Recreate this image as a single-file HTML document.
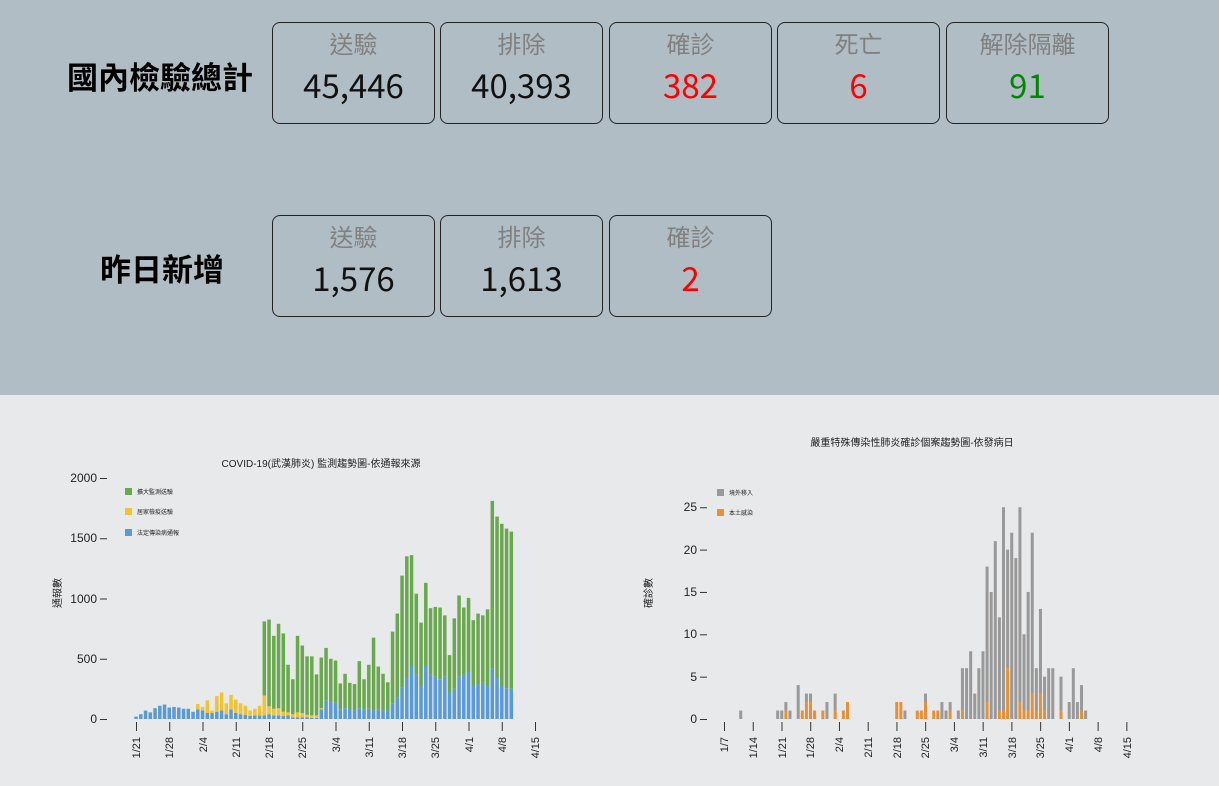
<!DOCTYPE html>
<html><head><meta charset="utf-8">
<style>
body{margin:0;width:1219px;height:786px;overflow:hidden;font-family:"Liberation Sans","Noto Sans CJK TC",sans-serif;background:#e8e9ea;position:relative}
#top{position:absolute;left:0;top:0;width:1219px;height:395px;background:#b0bdc4}
.h{position:absolute;font-size:31px;font-weight:bold;color:#000;white-space:nowrap;font-family:"Noto Sans CJK TC",sans-serif}
.box{position:absolute;width:161px;height:100px;border:1px solid #222;border-radius:8px;text-align:center}
.box .l{position:absolute;top:3px;left:0;right:0;font-size:24px;color:#808080;font-family:"Noto Sans CJK TC",sans-serif;line-height:34px}
.box .v{position:absolute;top:41px;left:0;right:0;font-size:33px;color:#111;line-height:40px;font-family:"Noto Sans CJK TC","Liberation Sans",sans-serif}
.r{color:#f00!important}.g{color:#080!important}
svg{position:absolute;left:0;top:0}
svg text{font-family:"Liberation Sans","Noto Sans CJK TC",sans-serif;fill:#222}
</style></head><body>
<div id="top">
<div class="h" style="left:67px;top:53px">國內檢驗總計</div>
<div class="h" style="left:100px;top:245px">昨日新增</div>
<div class="box" style="left:272px;top:22px"><div class="l">送驗</div><div class="v">45,446</div></div>
<div class="box" style="left:440px;top:22px"><div class="l">排除</div><div class="v">40,393</div></div>
<div class="box" style="left:609px;top:22px"><div class="l">確診</div><div class="v r">382</div></div>
<div class="box" style="left:777px;top:22px"><div class="l">死亡</div><div class="v r">6</div></div>
<div class="box" style="left:946px;top:22px"><div class="l">解除隔離</div><div class="v g">91</div></div>
<div class="box" style="left:272px;top:215px"><div class="l">送驗</div><div class="v">1,576</div></div>
<div class="box" style="left:440px;top:215px"><div class="l">排除</div><div class="v">1,613</div></div>
<div class="box" style="left:609px;top:215px"><div class="l">確診</div><div class="v r">2</div></div>
</div>
<svg id="s" width="1219" height="786">
<text x="321" y="467" font-size="10" text-anchor="middle">COVID-19(武漢肺炎) 監測趨勢圖-依通報來源</text>
<g font-size="12" text-anchor="end">
<text x="97" y="723">0</text><text x="97" y="663">500</text><text x="97" y="603">1000</text><text x="97" y="542">1500</text><text x="97" y="482">2000</text>
</g>
<text transform="translate(61,593) rotate(-90)" font-size="10" text-anchor="middle">通報數</text>
<rect x="125" y="488" width="7" height="7" fill="#6aa84f"/><text x="137" y="494" font-size="6">擴大監測送驗</text>
<rect x="125" y="508" width="7" height="7" fill="#f1c232"/><text x="137" y="514" font-size="6">居家檢疫送驗</text>
<rect x="125" y="529" width="7" height="7" fill="#5b9bd5"/><text x="137" y="535" font-size="6">法定傳染病通報</text>
<g font-size="11" text-anchor="end" id="lx">
<text transform="translate(140,737) rotate(-90)">1/21</text>
<text transform="translate(173,737) rotate(-90)">1/28</text>
<text transform="translate(207,737) rotate(-90)">2/4</text>
<text transform="translate(240,737) rotate(-90)">2/11</text>
<text transform="translate(273,737) rotate(-90)">2/18</text>
<text transform="translate(306,737) rotate(-90)">2/25</text>
<text transform="translate(340,737) rotate(-90)">3/4</text>
<text transform="translate(373,737) rotate(-90)">3/11</text>
<text transform="translate(406,737) rotate(-90)">3/18</text>
<text transform="translate(439,737) rotate(-90)">3/25</text>
<text transform="translate(473,737) rotate(-90)">4/1</text>
<text transform="translate(506,737) rotate(-90)">4/8</text>
<text transform="translate(539,737) rotate(-90)">4/15</text>
</g>
<text x="912" y="446" font-size="10" text-anchor="middle">嚴重特殊傳染性肺炎確診個案趨勢圖-依發病日</text>
<g font-size="12" text-anchor="end">
<text x="697" y="723">0</text><text x="697" y="681">5</text><text x="697" y="638">10</text><text x="697" y="596">15</text><text x="697" y="554">20</text><text x="697" y="511">25</text>
</g>
<text transform="translate(652,593) rotate(-90)" font-size="10" text-anchor="middle">確診數</text>
<rect x="717" y="489" width="7" height="7" fill="#999"/><text x="729" y="495" font-size="6">境外移入</text>
<rect x="717" y="509" width="7" height="7" fill="#e69138"/><text x="729" y="515" font-size="6">本土感染</text>
<g font-size="11" text-anchor="end">
<text transform="translate(728,737) rotate(-90)">1/7</text>
<text transform="translate(757,737) rotate(-90)">1/14</text>
<text transform="translate(786,737) rotate(-90)">1/21</text>
<text transform="translate(814,737) rotate(-90)">1/28</text>
<text transform="translate(843,737) rotate(-90)">2/4</text>
<text transform="translate(872,737) rotate(-90)">2/11</text>
<text transform="translate(901,737) rotate(-90)">2/18</text>
<text transform="translate(929,737) rotate(-90)">2/25</text>
<text transform="translate(958,737) rotate(-90)">3/4</text>
<text transform="translate(987,737) rotate(-90)">3/11</text>
<text transform="translate(1016,737) rotate(-90)">3/18</text>
<text transform="translate(1044,737) rotate(-90)">3/25</text>
<text transform="translate(1073,737) rotate(-90)">4/1</text>
<text transform="translate(1102,737) rotate(-90)">4/8</text>
<text transform="translate(1131,737) rotate(-90)">4/15</text>
</g>
</svg>
<script>
var s=document.getElementById('s'),NS='http://www.w3.org/2000/svg';
function R(x,y,w,h,c){var r=document.createElementNS(NS,'rect');r.setAttribute('x',x);r.setAttribute('y',y);r.setAttribute('width',w);r.setAttribute('height',h);r.setAttribute('fill',c);s.appendChild(r);}
function L(x1,y1,x2,y2){R(Math.min(x1,x2),Math.min(y1,y2),Math.max(1,Math.abs(x2-x1)),Math.max(1,Math.abs(y2-y1)),'#333');}
// left axes ticks
[0,500,1000,1500,2000].forEach(function(v){L(100,719-v*0.1205,107,719-v*0.1205+1);});
for(var i=0;i<13;i++){L(136+i*33.25,722,136+i*33.25+1,731);}
var d=[[20,0,0],[40,0,0],[70,0,0],[55,0,0],[90,0,0],[110,0,0],[120,0,0],[95,0,0],[100,0,0],[95,0,0],[85,0,0],[85,0,0],[60,0,0],[80,45,0],[70,30,0],[50,105,0],[50,20,0],[60,130,0],[70,150,0],[40,90,0],[80,120,0],[50,110,0],[40,90,0],[35,75,0],[25,45,0],[30,55,0],[30,80,0],[30,165,615],[40,65,720],[30,55,605],[30,60,700],[25,35,650],[30,25,395],[15,25,290],[15,40,635],[15,35,560],[15,20,485],[10,20,490],[10,20,340],[80,10,420],[155,0,435],[145,0,355],[135,0,350],[80,0,215],[90,0,285],[75,0,225],[70,0,220],[90,0,390],[80,0,250],[85,0,365],[70,0,605],[80,0,355],[70,0,305],[70,0,235],[130,0,595],[180,0,695],[260,0,930],[340,0,1010],[440,0,920],[370,0,670],[270,0,530],[440,0,690],[370,0,550],[350,0,580],[330,0,595],[350,0,510],[220,0,310],[250,0,585],[350,0,675],[370,0,555],[390,0,615],[270,0,550],[290,0,585],[300,0,560],[270,0,640],[420,0,1390],[340,0,1340],[270,0,1350],[255,0,1325],[250,0,1305]];
var k=0.1205;
d.forEach(function(b,i){var x=136+i*4.75-1.7,y=719;
 R(x,y-b[0]*k,3.5,b[0]*k,'#5b9bd5');y-=b[0]*k;
 if(b[1]){R(x,y-b[1]*k,3.5,b[1]*k,'#f1c232');y-=b[1]*k;}
 if(b[2]){R(x,y-b[2]*k,3.5,b[2]*k,'#6aa84f');}
});
// right axes
[0,5,10,15,20,25].forEach(function(v){L(700,719-v*8.47,707,719-v*8.47+1);});
for(i=0;i<15;i++){L(724+i*28.74,722,724+i*28.74+1,731);}
var r={'1/11':[1,0],'1/20':[1,0],'1/21':[1,0],'1/22':[2,1],'1/23':[1,0],'1/25':[4,0],'1/26':[1,1],'1/27':[3,2],'1/28':[3,2],'1/29':[1,1],'1/31':[1,1],'2/1':[2,0],'2/3':[3,1],'2/5':[1,1],'2/6':[2,2],'2/18':[2,2],'2/19':[2,2],'2/20':[1,0],'2/23':[1,1],'2/24':[1,1],'2/25':[3,2],'2/27':[1,1],'2/28':[1,1],'2/29':[2,0],'3/1':[1,0],'3/2':[2,1],'3/4':[1,0],'3/5':[6,1],'3/6':[6,0],'3/7':[8,0],'3/8':[3,0],'3/9':[6,0],'3/10':[8,0],'3/11':[18,2],'3/12':[15,0],'3/13':[21,0],'3/14':[12,1],'3/15':[25,1],'3/16':[20,6],'3/17':[22,0],'3/18':[19,0],'3/19':[25,2],'3/20':[10,1],'3/21':[15,1],'3/22':[22,3],'3/23':[6,1],'3/24':[13,3],'3/25':[5,1],'3/26':[6,0],'3/27':[6,0],'3/29':[5,1],'3/31':[2,0],'4/1':[6,0],'4/2':[2,0],'4/3':[4,1],'4/4':[1,0]};
var md=[0,0,31,60,91];
for(var key in r){var p=key.split('/'),day=md[+p[0]]+(+p[1])-7,v=r[key];
 var x=724.3+day*4.106-1.5,h=v[0]*8.47,o=v[1]*8.47;
 if(v[0]>v[1])R(x,719-h,3,h-o,'#999');
 if(o)R(x,719-o,3,o,'#e69138');}
</script>
</body></html>
